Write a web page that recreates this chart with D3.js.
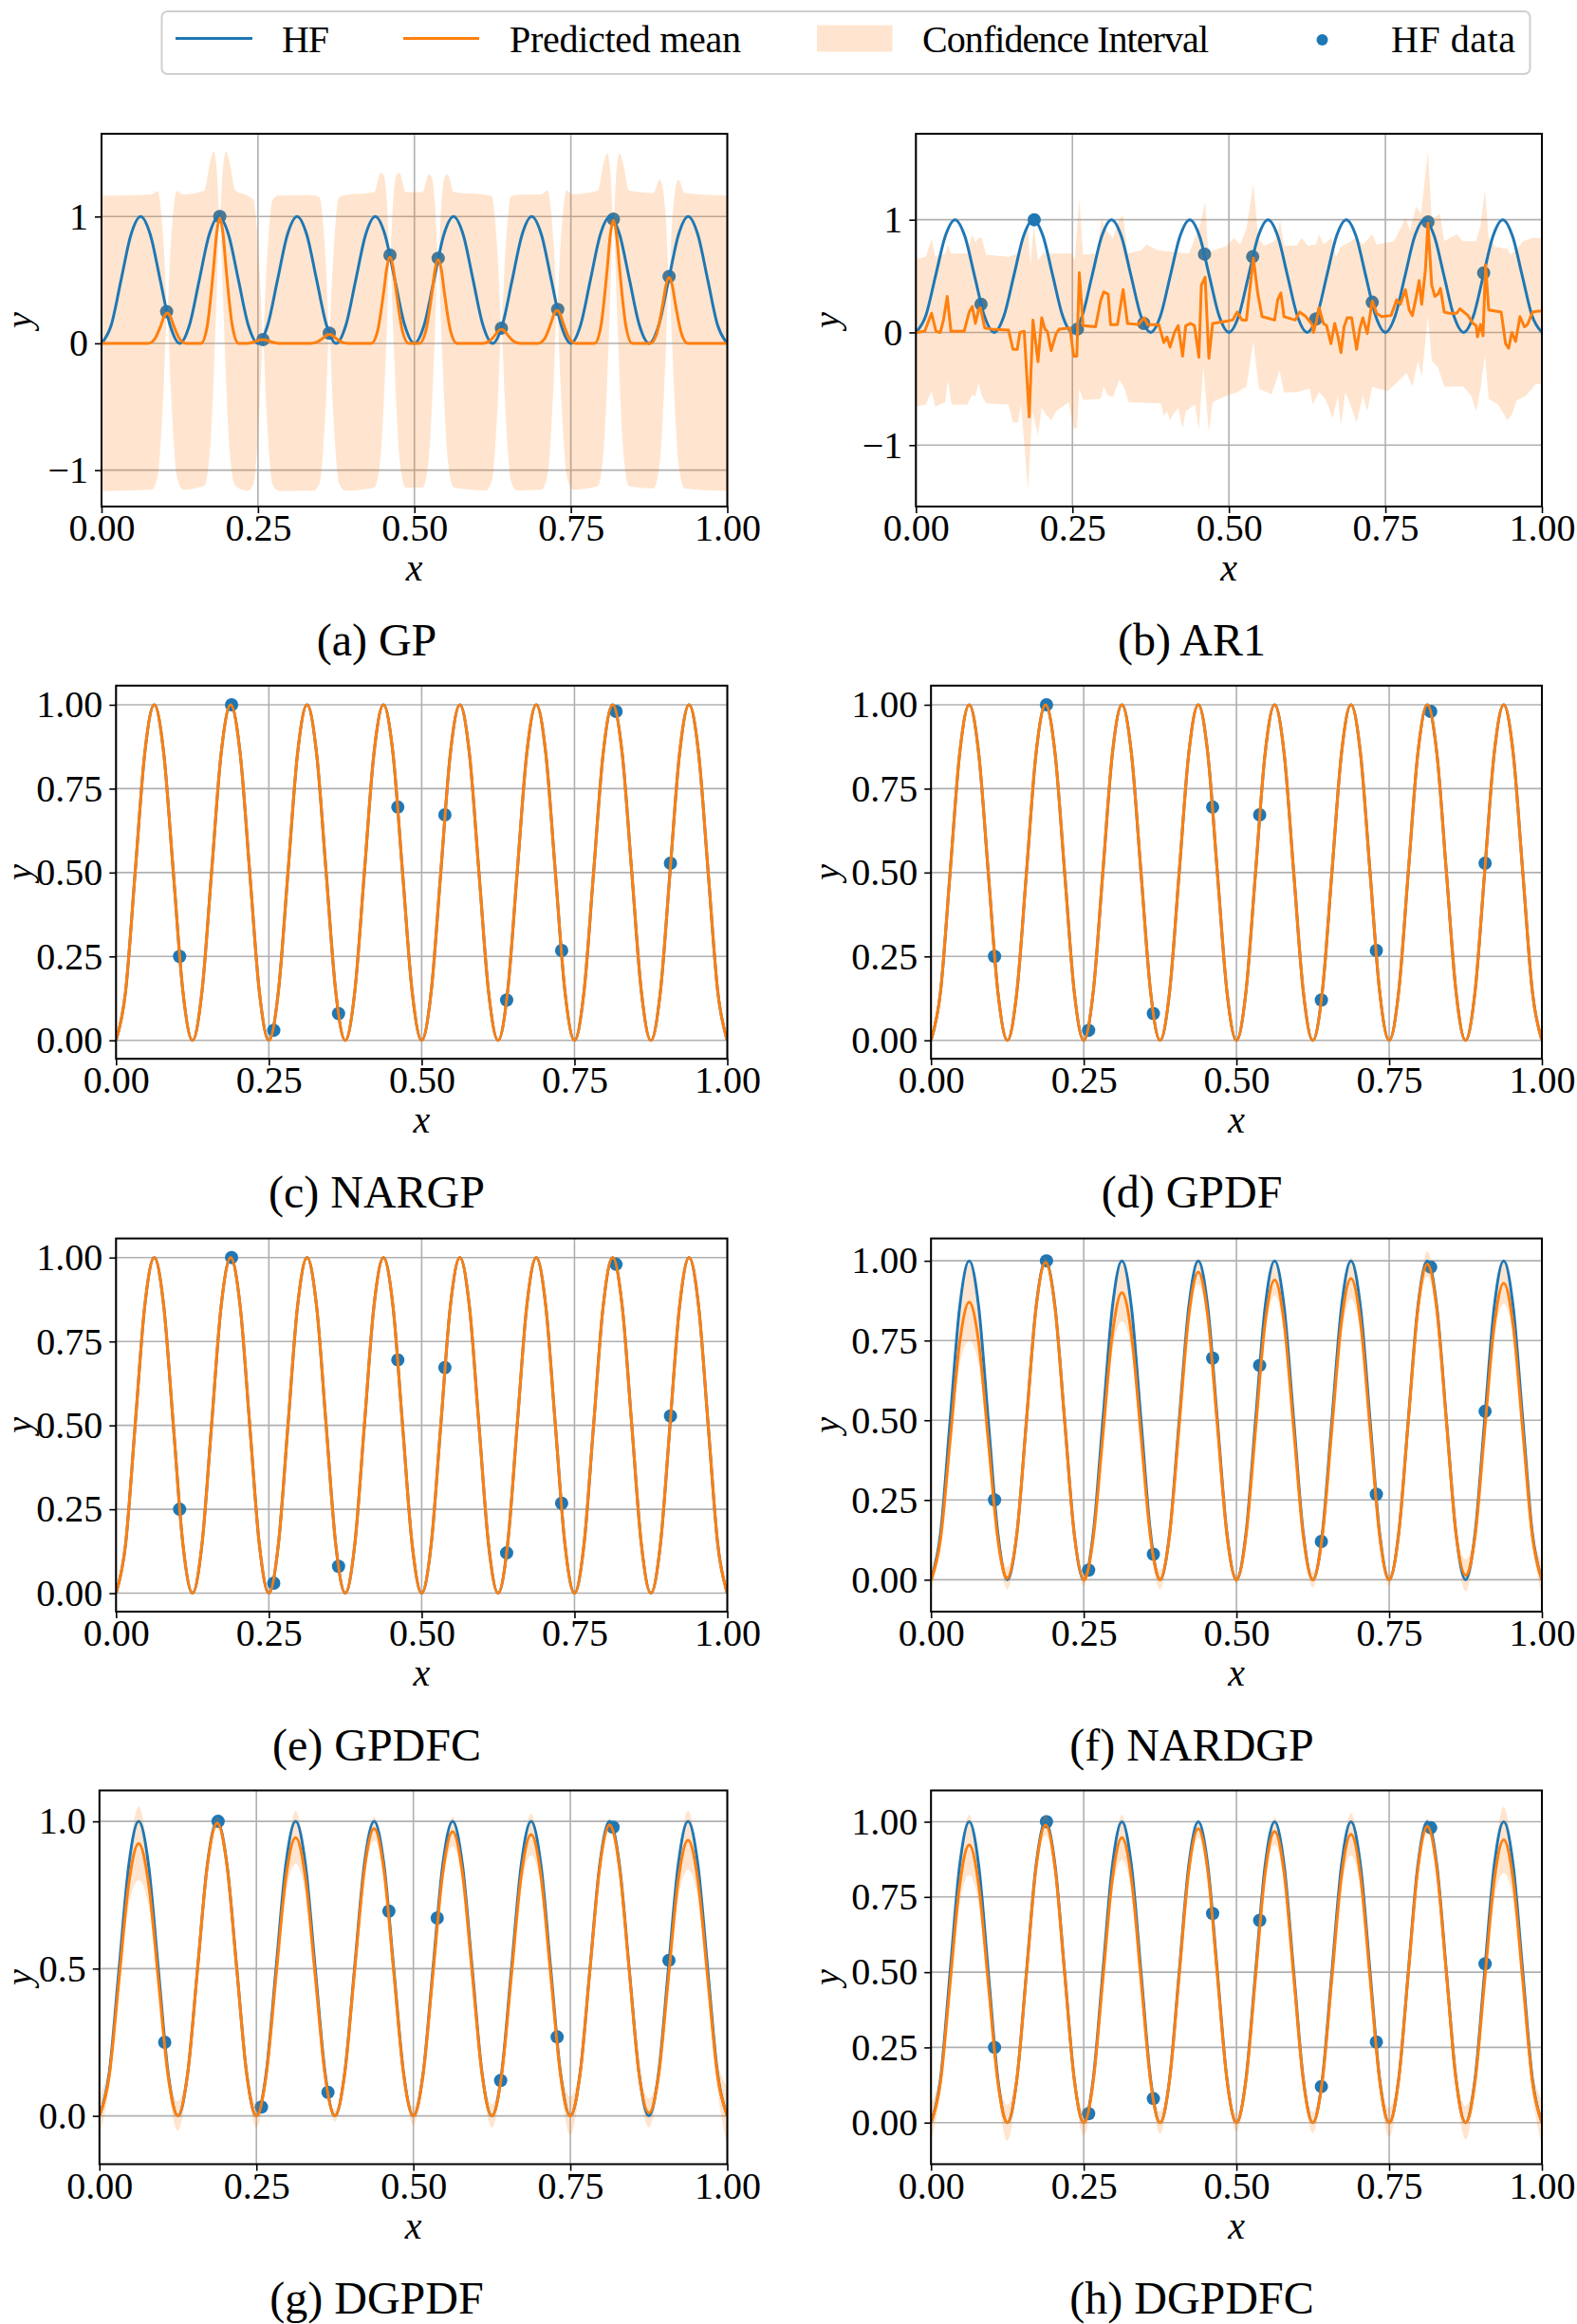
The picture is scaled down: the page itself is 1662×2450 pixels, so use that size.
<!DOCTYPE html>
<html>
<head>
<meta charset="utf-8">
<script src="https://cdn.jsdelivr.net/npm/d3@7"></script>
<style>
  body { margin: 0; background: #fff; }
  svg text { font-family: "Liberation Serif", "DejaVu Serif", serif; fill: #000; }
</style>
</head>
<body>
<svg id="fig" width="1662" height="2450"></svg>
<script>
// ---------- data ----------
var xTicks = [0, 0.25, 0.5, 0.75, 1];
var gridX = d3.range(65).map(function (i) { return i / 64; });

// high fidelity function, sampled 8 times per period
var hfY = [
  0, 0.146, 0.5, 0.854, 1, 0.854, 0.5, 0.146,
  0, 0.146, 0.5, 0.854, 1, 0.854, 0.5, 0.146,
  0, 0.146, 0.5, 0.854, 1, 0.854, 0.5, 0.146,
  0, 0.146, 0.5, 0.854, 1, 0.854, 0.5, 0.146,
  0, 0.146, 0.5, 0.854, 1, 0.854, 0.5, 0.146,
  0, 0.146, 0.5, 0.854, 1, 0.854, 0.5, 0.146,
  0, 0.146, 0.5, 0.854, 1, 0.854, 0.5, 0.146,
  0, 0.146, 0.5, 0.854, 1, 0.854, 0.5, 0.146,
  0
];

// HF training points
var hfDataX = [0.104, 0.189, 0.258, 0.364, 0.461, 0.538, 0.639, 0.729, 0.818, 0.907];
var hfDataY = [0.25, 1.0, 0.03, 0.08, 0.695, 0.672, 0.12, 0.268, 0.98, 0.528];

// (a) GP mean
var gpMeanX = [0,
  0.075, 0.085, 0.095, 0.100, 0.105, 0.110, 0.115, 0.125, 0.135,
  0.159, 0.169, 0.179, 0.184, 0.189, 0.194, 0.199, 0.209, 0.219,
  0.228, 0.238, 0.248, 0.253, 0.258, 0.263, 0.268, 0.278, 0.288,
  0.334, 0.344, 0.354, 0.359, 0.364, 0.369, 0.374, 0.384, 0.394,
  0.431, 0.441, 0.451, 0.456, 0.461, 0.466, 0.471, 0.481, 0.491,
  0.508, 0.518, 0.528, 0.533, 0.538, 0.543, 0.548, 0.558, 0.568,
  0.609, 0.619, 0.629, 0.634, 0.639, 0.644, 0.649, 0.659, 0.669,
  0.698, 0.708, 0.718, 0.723, 0.728, 0.733, 0.738, 0.748, 0.758,
  0.788, 0.798, 0.808, 0.813, 0.818, 0.823, 0.828, 0.838, 0.848,
  0.877, 0.887, 0.897, 0.902, 0.907, 0.912, 0.917, 0.927, 0.937,
  1];
var gpMean = [0,
  0, 0.034, 0.144, 0.211, 0.24, 0.211, 0.144, 0.034, 0,
  0, 0.139, 0.594, 0.871, 0.99, 0.871, 0.594, 0.139, 0,
  0, 0.004, 0.018, 0.026, 0.03, 0.026, 0.018, 0.004, 0,
  0, 0.01, 0.042, 0.062, 0.07, 0.062, 0.042, 0.01, 0,
  0, 0.095, 0.408, 0.598, 0.68, 0.598, 0.408, 0.095, 0,
  0, 0.092, 0.396, 0.581, 0.66, 0.581, 0.396, 0.092, 0,
  0, 0.015, 0.066, 0.097, 0.11, 0.097, 0.066, 0.015, 0,
  0, 0.036, 0.156, 0.229, 0.26, 0.229, 0.156, 0.036, 0,
  0, 0.136, 0.582, 0.854, 0.97, 0.854, 0.582, 0.136, 0,
  0, 0.073, 0.312, 0.458, 0.52, 0.458, 0.312, 0.073, 0,
  0];

// (a) GP confidence interval
var gpCiX = [0,
  0.080, 0.090, 0.095, 0.100, 0.105, 0.110, 0.115, 0.120, 0.130,
  0.164, 0.174, 0.179, 0.184, 0.189, 0.194, 0.199, 0.204, 0.214,
  0.233, 0.243, 0.248, 0.253, 0.258, 0.263, 0.268, 0.273, 0.283,
  0.339, 0.349, 0.354, 0.359, 0.364, 0.369, 0.374, 0.379, 0.389,
  0.436, 0.446, 0.451, 0.456, 0.461, 0.466, 0.471, 0.476, 0.486,
  0.513, 0.523, 0.528, 0.533, 0.538, 0.543, 0.548, 0.553, 0.563,
  0.614, 0.624, 0.629, 0.634, 0.639, 0.644, 0.649, 0.654, 0.664,
  0.703, 0.713, 0.718, 0.723, 0.728, 0.733, 0.738, 0.743, 0.753,
  0.793, 0.803, 0.808, 0.813, 0.818, 0.823, 0.828, 0.833, 0.843,
  0.882, 0.892, 0.897, 0.902, 0.907, 0.912, 0.917, 0.922, 0.932,
  1];
var gpCiHi = [1.165,
  1.175, 1.20, 1.05, 0.72, 0.25, 0.72, 1.05, 1.20, 1.175,
  1.205, 1.44, 1.51, 1.38, 1.0, 1.38, 1.51, 1.44, 1.205,
  1.166, 1.13, 0.92, 0.53, 0.03, 0.53, 0.92, 1.13, 1.166,
  1.168, 1.146, 0.95, 0.57, 0.08, 0.57, 0.95, 1.146, 1.168,
  1.193, 1.344, 1.327, 1.116, 0.70, 1.116, 1.327, 1.344, 1.193,
  1.192, 1.334, 1.309, 1.09, 0.67, 1.09, 1.309, 1.334, 1.192,
  1.17, 1.158, 0.973, 0.606, 0.12, 0.606, 0.973, 1.158, 1.17,
  1.176, 1.206, 1.065, 0.738, 0.27, 0.738, 1.065, 1.206, 1.176,
  1.204, 1.434, 1.498, 1.362, 0.98, 1.362, 1.498, 1.434, 1.204,
  1.186, 1.29, 1.223, 0.966, 0.53, 0.966, 1.223, 1.29, 1.186,
  1.165];
var gpCiLo = [-1.165,
  -1.155, -1.04, -0.75, -0.28, 0.25, -0.28, -0.75, -1.04, -1.155,
  -1.125, -0.80, -0.29, 0.38, 1.0, 0.38, -0.29, -0.80, -1.125,
  -1.164, -1.11, -0.88, -0.47, 0.03, -0.47, -0.88, -1.11, -1.164,
  -1.162, -1.094, -0.85, -0.43, 0.08, -0.43, -0.85, -1.094, -1.162,
  -1.137, -0.896, -0.473, 0.116, 0.70, 0.116, -0.473, -0.896, -1.137,
  -1.138, -0.906, -0.491, 0.09, 0.67, 0.09, -0.491, -0.906, -1.138,
  -1.16, -1.082, -0.827, -0.394, 0.12, -0.394, -0.827, -1.082, -1.16,
  -1.154, -1.034, -0.735, -0.262, 0.27, -0.262, -0.735, -1.034, -1.154,
  -1.126, -0.806, -0.302, 0.362, 0.98, 0.362, -0.302, -0.806, -1.126,
  -1.144, -0.95, -0.577, -0.034, 0.53, -0.034, -0.577, -0.95, -1.144,
  -1.165];

// (b) AR1 mean
var ar1X = [
  0, 0.014, 0.025, 0.032, 0.039, 0.044, 0.050, 0.056, 0.077, 0.085,
  0.090, 0.095, 0.100, 0.103, 0.110, 0.120, 0.148, 0.155, 0.162, 0.166,
  0.173, 0.181, 0.187, 0.195, 0.201, 0.206, 0.210, 0.216, 0.224, 0.229,
  0.246, 0.252, 0.257, 0.261, 0.267, 0.287, 0.295, 0.300, 0.307, 0.311,
  0.322, 0.331, 0.338, 0.355, 0.365, 0.370, 0.388, 0.396, 0.401, 0.406,
  0.413, 0.419, 0.426, 0.431, 0.439, 0.445, 0.452, 0.456, 0.462, 0.468,
  0.474, 0.497, 0.506, 0.513, 0.521, 0.528, 0.539, 0.546, 0.553, 0.573,
  0.578, 0.583, 0.588, 0.606, 0.613, 0.623, 0.633, 0.635, 0.639, 0.644,
  0.651, 0.656, 0.663, 0.669, 0.674, 0.679, 0.684, 0.689, 0.696, 0.704,
  0.709, 0.714, 0.721, 0.729, 0.736, 0.744, 0.759, 0.768, 0.774, 0.782,
  0.788, 0.793, 0.799, 0.804, 0.808, 0.814, 0.818, 0.824, 0.829, 0.834,
  0.838, 0.844, 0.852, 0.864, 0.869, 0.882, 0.890, 0.895, 0.897, 0.902,
  0.906, 0.910, 0.915, 0.935, 0.942, 0.947, 0.952, 0.958, 0.965, 0.972,
  0.977, 0.985, 0.995, 1.0];
var ar1Mean = [
  0, 0.01, 0.17, 0.01, 0, 0.11, 0.32, 0.01, 0.01, 0.18,
  0.23, 0.08, 0.20, 0.22, 0.04, 0.03, 0.02, -0.15, -0.15, 0,
  0.01, -0.75, 0.11, -0.26, 0.13, 0.03, 0.01, -0.16, -0.01, 0.03,
  0.04, -0.21, -0.21, 0.53, 0.06, 0.05, 0.28, 0.36, 0.34, 0.07,
  0.07, 0.38, 0.08, 0.07, 0.13, 0.07, 0.07, -0.09, -0.04, -0.13,
  0, 0.06, -0.21, 0.06, 0.08, 0.06, -0.22, 0.42, 0.49, -0.23,
  0.08, 0.10, 0.11, 0.18, 0.11, 0.11, 0.66, 0.35, 0.14, 0.11,
  0.29, 0.35, 0.14, 0.11, 0.18, 0.14, 0.07, 0, 0.08, 0.22,
  0.08, 0.06, -0.10, 0.08, -0.03, -0.18, 0.05, 0.13, 0.13, -0.15,
  0.03, 0.13, -0.01, 0.28, 0.17, 0.14, 0.15, 0.29, 0.25, 0.38,
  0.20, 0.15, 0.31, 0.46, 0.25, 0.56, 0.97, 0.42, 0.32, 0.34,
  0.39, 0.18, 0.17, 0.17, 0.21, 0.15, 0.08, 0.06, -0.04, 0.07,
  -0.03, 0.60, 0.20, 0.18, -0.10, -0.14, 0, -0.08, 0.14, 0.05,
  0.07, 0.18, 0.19, 0.19];

// (b) AR1 confidence interval, upper and lower edges
var ar1HiX = [
  0, 0.016, 0.025, 0.031, 0.047, 0.051, 0.056, 0.082, 0.090, 0.095,
  0.100, 0.105, 0.112, 0.148, 0.163, 0.179, 0.183, 0.188, 0.195, 0.203,
  0.249, 0.254, 0.261, 0.267, 0.289, 0.297, 0.302, 0.315, 0.325, 0.331,
  0.338, 0.360, 0.368, 0.386, 0.436, 0.454, 0.462, 0.467, 0.497, 0.508,
  0.518, 0.528, 0.539, 0.547, 0.556, 0.573, 0.582, 0.588, 0.608, 0.616,
  0.626, 0.639, 0.644, 0.651, 0.664, 0.671, 0.679, 0.704, 0.714, 0.729,
  0.736, 0.764, 0.774, 0.782, 0.789, 0.799, 0.807, 0.818, 0.824, 0.837,
  0.844, 0.864, 0.874, 0.895, 0.902, 0.909, 0.915, 0.925, 0.945, 0.950,
  0.960, 0.970, 0.985, 1.0];
var ar1Hi = [
  0.65, 0.67, 0.83, 0.67, 0.70, 0.78, 0.70, 0.70, 0.87, 0.80,
  0.84, 0.84, 0.69, 0.67, 0.70, 0.92, 0.59, 0.95, 0.64, 0.70,
  0.70, 0.64, 1.19, 0.69, 0.70, 1.01, 0.92, 0.84, 1.01, 1.04,
  0.70, 0.73, 0.78, 0.73, 0.70, 0.95, 1.16, 0.71, 0.77, 0.84,
  0.78, 0.92, 1.32, 0.84, 0.77, 0.81, 0.99, 0.77, 0.77, 0.84,
  0.77, 0.78, 0.87, 0.78, 0.84, 0.67, 0.76, 0.84, 0.78, 0.87,
  0.78, 0.81, 0.92, 1.02, 0.90, 1.12, 1.05, 1.61, 1.01, 1.05,
  0.81, 0.87, 0.81, 0.81, 0.95, 1.26, 0.84, 0.76, 0.74, 0.69,
  0.74, 0.81, 0.84, 0.84];
var ar1LoX = [
  0, 0.016, 0.025, 0.031, 0.047, 0.051, 0.057, 0.082, 0.090, 0.095,
  0.100, 0.105, 0.112, 0.148, 0.155, 0.163, 0.168, 0.179, 0.186, 0.195,
  0.201, 0.208, 0.216, 0.224, 0.244, 0.252, 0.257, 0.261, 0.267, 0.295,
  0.300, 0.307, 0.315, 0.325, 0.332, 0.340, 0.391, 0.396, 0.401, 0.406,
  0.413, 0.419, 0.426, 0.431, 0.446, 0.452, 0.459, 0.468, 0.474, 0.497,
  0.513, 0.528, 0.539, 0.548, 0.568, 0.581, 0.588, 0.608, 0.629, 0.634,
  0.644, 0.654, 0.666, 0.674, 0.679, 0.686, 0.694, 0.704, 0.714, 0.721,
  0.729, 0.739, 0.754, 0.767, 0.784, 0.793, 0.802, 0.808, 0.818, 0.824,
  0.834, 0.844, 0.874, 0.887, 0.895, 0.902, 0.909, 0.915, 0.930, 0.945,
  0.952, 0.960, 0.975, 0.990, 1.0];
var ar1Lo = [
  -0.66, -0.64, -0.52, -0.66, -0.62, -0.42, -0.64, -0.64, -0.55, -0.57,
  -0.45, -0.56, -0.63, -0.64, -0.80, -0.80, -0.64, -1.40, -0.70, -0.91,
  -0.67, -0.73, -0.78, -0.70, -0.62, -0.85, -0.85, -0.50, -0.60, -0.59,
  -0.48, -0.56, -0.57, -0.42, -0.48, -0.62, -0.63, -0.74, -0.70, -0.78,
  -0.71, -0.67, -0.85, -0.70, -0.64, -0.87, -0.31, -0.88, -0.62, -0.56,
  -0.53, -0.48, -0.08, -0.50, -0.55, -0.34, -0.53, -0.53, -0.50, -0.64,
  -0.53, -0.59, -0.76, -0.56, -0.83, -0.53, -0.64, -0.80, -0.56, -0.70,
  -0.48, -0.50, -0.52, -0.45, -0.36, -0.48, -0.25, -0.39, 0.14, -0.25,
  -0.31, -0.48, -0.48, -0.56, -0.70, -0.50, -0.20, -0.59, -0.64, -0.78,
  -0.73, -0.60, -0.56, -0.46, -0.46];

// (c) NARGP, (d) GPDF, (e) GPDFC: the mean sits on the HF curve
var nargpMean = hfY;
var gpdfMean = hfY;
var gpdfcMean = hfY;

// (f) NARDGP mean and CI half width, on gridX
var nardgpMean = [
  0, 0.127, 0.435, 0.743, 0.87, 0.743, 0.435, 0.127,
  0.005, 0.145, 0.498, 0.850, 0.995, 0.850, 0.498, 0.145,
  0, 0.131, 0.45, 0.769, 0.90, 0.769, 0.45, 0.131,
  0, 0.141, 0.483, 0.824, 0.965, 0.824, 0.483, 0.141,
  0, 0.137, 0.47, 0.803, 0.94, 0.803, 0.47, 0.137,
  0, 0.138, 0.473, 0.807, 0.945, 0.807, 0.473, 0.138,
  0, 0.145, 0.495, 0.845, 0.99, 0.845, 0.495, 0.145,
  0.014, 0.136, 0.465, 0.794, 0.93, 0.794, 0.465, 0.136,
  0];
var nardgpHw = [
  0.04, 0.02, 0.01, 0.072, 0.12, 0.072, 0.01, 0.018,
  0.035, 0.018, 0.01, 0.01, 0.015, 0.01, 0.01, 0.01,
  0.02, 0.01, 0.01, 0.054, 0.09, 0.054, 0.01, 0.015,
  0.03, 0.015, 0.01, 0.024, 0.04, 0.024, 0.01, 0.008,
  0.015, 0.008, 0.01, 0.03, 0.05, 0.03, 0.01, 0.013,
  0.025, 0.013, 0.01, 0.039, 0.065, 0.039, 0.01, 0.01,
  0.02, 0.01, 0.01, 0.024, 0.04, 0.024, 0.01, 0.025,
  0.05, 0.025, 0.01, 0.039, 0.065, 0.039, 0.01, 0.025,
  0.05];

// (g) DGPDF
var dgpdfMean = [
  0, 0.135, 0.463, 0.790, 0.925, 0.790, 0.463, 0.135,
  0, 0.145, 0.498, 0.850, 0.995, 0.850, 0.498, 0.145,
  0, 0.138, 0.473, 0.807, 0.945, 0.807, 0.473, 0.138,
  0, 0.142, 0.488, 0.833, 0.975, 0.833, 0.488, 0.142,
  0, 0.141, 0.483, 0.824, 0.965, 0.824, 0.483, 0.141,
  0, 0.139, 0.478, 0.816, 0.955, 0.816, 0.478, 0.139,
  0, 0.144, 0.494, 0.844, 0.988, 0.844, 0.494, 0.144,
  0.01, 0.137, 0.468, 0.799, 0.936, 0.799, 0.468, 0.137,
  0];
var dgpdfHw = [
  0.07, 0.035, 0.01, 0.075, 0.125, 0.075, 0.01, 0.025,
  0.05, 0.025, 0.01, 0.012, 0.02, 0.012, 0.01, 0.02,
  0.04, 0.02, 0.01, 0.054, 0.09, 0.054, 0.01, 0.01,
  0.02, 0.01, 0.01, 0.024, 0.04, 0.024, 0.01, 0.015,
  0.03, 0.015, 0.01, 0.03, 0.05, 0.03, 0.01, 0.02,
  0.04, 0.02, 0.01, 0.042, 0.07, 0.042, 0.01, 0.033,
  0.065, 0.033, 0.01, 0.012, 0.02, 0.012, 0.01, 0.025,
  0.05, 0.025, 0.01, 0.06, 0.1, 0.06, 0.01, 0.05,
  0.1];

// (h) DGPDFC
var dgpdfcMean = [
  0, 0.135, 0.462, 0.788, 0.923, 0.788, 0.462, 0.135,
  0, 0.145, 0.495, 0.845, 0.99, 0.845, 0.495, 0.145,
  0, 0.138, 0.474, 0.809, 0.947, 0.809, 0.474, 0.138,
  0, 0.143, 0.489, 0.834, 0.977, 0.834, 0.489, 0.143,
  0, 0.141, 0.484, 0.827, 0.968, 0.827, 0.484, 0.141,
  0, 0.14, 0.479, 0.818, 0.958, 0.818, 0.479, 0.14,
  0, 0.144, 0.493, 0.841, 0.985, 0.841, 0.493, 0.144,
  0, 0.137, 0.47, 0.803, 0.94, 0.803, 0.47, 0.137,
  0];
var dgpdfcHw = [
  0.065, 0.033, 0.01, 0.06, 0.1, 0.06, 0.01, 0.03,
  0.06, 0.03, 0.01, 0.021, 0.035, 0.021, 0.01, 0.022,
  0.043, 0.022, 0.01, 0.045, 0.075, 0.045, 0.01, 0.019,
  0.037, 0.019, 0.01, 0.018, 0.03, 0.018, 0.01, 0.015,
  0.03, 0.015, 0.01, 0.027, 0.045, 0.027, 0.01, 0.018,
  0.035, 0.018, 0.01, 0.042, 0.07, 0.042, 0.01, 0.025,
  0.049, 0.025, 0.01, 0.015, 0.025, 0.015, 0.01, 0.028,
  0.055, 0.028, 0.01, 0.066, 0.11, 0.066, 0.01, 0.039,
  0.078];

var legendLabels = ['HF', 'Predicted mean', 'Confidence Interval', 'HF data'];

// ---------- styling ----------
var BLUE = '#1f77b4', ORANGE = '#ff7f0e', GRID = '#b0b0b0';
var svg = d3.select('#fig');

function bandFrom(mean, hw) {
  return {
    type: 'area', x: gridX, curve: d3.curveCatmullRom.alpha(0),
    lo: mean.map(function (m, i) { return m - hw[i]; }),
    hi: mean.map(function (m, i) { return m + hw[i]; })
  };
}

var rows = [[141, 534], [722.8, 1116.2], [1305.6, 1699], [1887.5, 2281.5]];
var twoDec = d3.format('.2f');

var panels = [
  { key: 'a', caption: '(a) GP', col: 0, row: 0, left: 107, yDomain: [-1.287, 1.653], yTicks: [-1, 0, 1], yFmt: d3.format('d'),
    ci: { type: 'area', x: gpCiX, lo: gpCiLo, hi: gpCiHi, curve: d3.curveMonotoneX },
    meanX: gpMeanX, meanY: gpMean, meanCurve: d3.curveMonotoneX },
  { key: 'b', caption: '(b) AR1', col: 1, row: 0, left: 965.3, yDomain: [-1.545, 1.763], yTicks: [-1, 0, 1], yFmt: d3.format('d'),
    ci: { type: 'poly', hiX: ar1HiX, hi: ar1Hi, loX: ar1LoX, lo: ar1Lo },
    meanX: ar1X, meanY: ar1Mean, meanCurve: d3.curveLinear },
  { key: 'c', caption: '(c) NARGP', col: 0, row: 1, left: 122.3, yDomain: [-0.055, 1.057], yTicks: [0, 0.25, 0.5, 0.75, 1], yFmt: twoDec,
    ci: null, meanX: gridX, meanY: nargpMean, meanCurve: d3.curveCatmullRom.alpha(0) },
  { key: 'd', caption: '(d) GPDF', col: 1, row: 1, left: 981.2, yDomain: [-0.055, 1.057], yTicks: [0, 0.25, 0.5, 0.75, 1], yFmt: twoDec,
    ci: null, meanX: gridX, meanY: gpdfMean, meanCurve: d3.curveCatmullRom.alpha(0) },
  { key: 'e', caption: '(e) GPDFC', col: 0, row: 2, left: 122.3, yDomain: [-0.055, 1.057], yTicks: [0, 0.25, 0.5, 0.75, 1], yFmt: twoDec,
    ci: null, meanX: gridX, meanY: gpdfcMean, meanCurve: d3.curveCatmullRom.alpha(0) },
  { key: 'f', caption: '(f) NARDGP', col: 1, row: 2, left: 981.2, yDomain: [-0.1, 1.07], yTicks: [0, 0.25, 0.5, 0.75, 1], yFmt: twoDec,
    ci: bandFrom(nardgpMean, nardgpHw), meanX: gridX, meanY: nardgpMean, meanCurve: d3.curveCatmullRom.alpha(0) },
  { key: 'g', caption: '(g) DGPDF', col: 0, row: 3, left: 104.8, yDomain: [-0.164, 1.105], yTicks: [0, 0.5, 1], yFmt: d3.format('.1f'),
    ci: bandFrom(dgpdfMean, dgpdfHw), meanX: gridX, meanY: dgpdfMean, meanCurve: d3.curveCatmullRom.alpha(0) },
  { key: 'h', caption: '(h) DGPDFC', col: 1, row: 3, left: 981.2, yDomain: [-0.138, 1.104], yTicks: [0, 0.25, 0.5, 0.75, 1], yFmt: twoDec,
    ci: bandFrom(dgpdfcMean, dgpdfcHw), meanX: gridX, meanY: dgpdfcMean, meanCurve: d3.curveCatmullRom.alpha(0) }
];

var colRight = [766.5, 1625];
var colCenter = [397, 1256];
var yLabelX = [20, 871];

panels.forEach(drawPanel);
drawLegend();

function drawPanel(p) {
  var top = rows[p.row][0], bottom = rows[p.row][1], right = colRight[p.col];
  var x = d3.scaleLinear().domain([0, 1]).range([p.left, right]);
  var y = d3.scaleLinear().domain(p.yDomain).range([bottom, top]);
  var g = svg.append('g').attr('class', 'panel-' + p.key);

  svg.append('clipPath').attr('id', 'clip-' + p.key)
    .append('rect').attr('x', p.left).attr('y', top)
    .attr('width', right - p.left).attr('height', bottom - top);

  // grid
  var grid = g.append('g').attr('stroke', GRID).attr('stroke-width', 1.6);
  grid.selectAll('line.vx').data(xTicks).join('line').attr('class', 'vx')
    .attr('x1', function (d) { return x(d); }).attr('x2', function (d) { return x(d); })
    .attr('y1', top).attr('y2', bottom);
  grid.selectAll('line.hy').data(p.yTicks).join('line').attr('class', 'hy')
    .attr('x1', p.left).attr('x2', right)
    .attr('y1', function (d) { return y(d); }).attr('y2', function (d) { return y(d); });

  var plot = g.append('g').attr('clip-path', 'url(#clip-' + p.key + ')');

  // HF data points (drawn first, CI goes over them)
  plot.selectAll('circle').data(hfDataX).join('circle')
    .attr('cx', function (d) { return x(d); })
    .attr('cy', function (d, i) { return y(hfDataY[i]); })
    .attr('r', 7).attr('fill', BLUE);

  // confidence interval
  if (p.ci && p.ci.type === 'area') {
    var ci = p.ci;
    var area = d3.area().curve(ci.curve)
      .x(function (i) { return x(ci.x[i]); })
      .y0(function (i) { return y(ci.lo[i]); })
      .y1(function (i) { return y(ci.hi[i]); });
    plot.append('path').attr('d', area(d3.range(ci.x.length)))
      .attr('fill', ORANGE).attr('fill-opacity', 0.2);
  } else if (p.ci && p.ci.type === 'poly') {
    var pts = [];
    p.ci.hiX.forEach(function (v, i) { pts.push([v, p.ci.hi[i]]); });
    for (var k = p.ci.loX.length - 1; k >= 0; k--) pts.push([p.ci.loX[k], p.ci.lo[k]]);
    var poly = d3.line().x(function (d) { return x(d[0]); }).y(function (d) { return y(d[1]); });
    plot.append('path').attr('d', poly(pts) + 'Z')
      .attr('fill', ORANGE).attr('fill-opacity', 0.2);
  }

  // HF curve
  var hfLine = d3.line().curve(d3.curveCatmullRom.alpha(0))
    .x(function (i) { return x(gridX[i]); })
    .y(function (i) { return y(hfY[i]); });
  plot.append('path').attr('d', hfLine(d3.range(gridX.length)))
    .attr('fill', 'none').attr('stroke', BLUE).attr('stroke-width', 3);

  // predicted mean
  var meanLine = d3.line().curve(p.meanCurve)
    .x(function (i) { return x(p.meanX[i]); })
    .y(function (i) { return y(p.meanY[i]); });
  plot.append('path').attr('d', meanLine(d3.range(p.meanX.length)))
    .attr('fill', 'none').attr('stroke', ORANGE).attr('stroke-width', 3)
    .attr('stroke-linejoin', 'round');

  // axes
  var xAxis = g.append('g').attr('transform', 'translate(0,' + bottom + ')')
    .call(d3.axisBottom(x).tickValues(xTicks).tickFormat(twoDec).tickSize(7).tickPadding(5));
  var yAxis = g.append('g').attr('transform', 'translate(' + p.left + ',0)')
    .call(d3.axisLeft(y).tickValues(p.yTicks).tickFormat(p.yFmt).tickSize(7).tickPadding(7));
  [xAxis, yAxis].forEach(function (a) {
    a.select('.domain').remove();
    a.attr('font-family', null).attr('font-size', null);
    a.selectAll('line').attr('stroke', '#000').attr('stroke-width', 1.6);
    a.selectAll('text').attr('font-size', 40);
  });
  xAxis.selectAll('text').attr('dy', '0.6em');

  // frame
  g.append('rect').attr('x', p.left).attr('y', top)
    .attr('width', right - p.left).attr('height', bottom - top)
    .attr('fill', 'none').attr('stroke', '#000').attr('stroke-width', 2);

  // axis labels
  g.append('text').attr('x', (p.left + right) / 2).attr('y', bottom + 78)
    .attr('text-anchor', 'middle').attr('font-size', 40).attr('font-style', 'italic').text('x');
  g.append('text')
    .attr('transform', 'translate(' + yLabelX[p.col] + ',' + (top + bottom) / 2 + ') rotate(-90)')
    .attr('text-anchor', 'middle').attr('dominant-baseline', 'central')
    .attr('font-size', 38).attr('font-style', 'italic').text('y');

  // caption
  g.append('text').attr('x', colCenter[p.col]).attr('y', bottom + 157)
    .attr('text-anchor', 'middle').attr('font-size', 48).text(p.caption);
}

function drawLegend() {
  var lg = svg.append('g').attr('class', 'legend');
  lg.append('rect').attr('x', 170.5).attr('y', 12).attr('width', 1442).attr('height', 66)
    .attr('rx', 6).attr('fill', '#fff').attr('stroke', '#d0d0d0').attr('stroke-width', 2);
  lg.append('line').attr('x1', 185).attr('x2', 266).attr('y1', 40.5).attr('y2', 40.5)
    .attr('stroke', BLUE).attr('stroke-width', 3);
  lg.append('line').attr('x1', 425).attr('x2', 505).attr('y1', 40.5).attr('y2', 40.5)
    .attr('stroke', ORANGE).attr('stroke-width', 3);
  lg.append('rect').attr('x', 861).attr('y', 26.5).attr('width', 79.5).attr('height', 28)
    .attr('fill', ORANGE).attr('fill-opacity', 0.2);
  lg.append('circle').attr('cx', 1393.5).attr('cy', 42).attr('r', 6).attr('fill', BLUE);
  var textX = [297, 537, 972, 1466];
  var textW = [50, 244, 302, 131];
  lg.selectAll('text').data(legendLabels).join('text')
    .attr('x', function (d, i) { return textX[i]; }).attr('y', 55)
    .attr('font-size', 40)
    .attr('textLength', function (d, i) { return textW[i]; })
    .attr('lengthAdjust', 'spacing')
    .text(function (d) { return d; });
}
</script>
</body>
</html>
